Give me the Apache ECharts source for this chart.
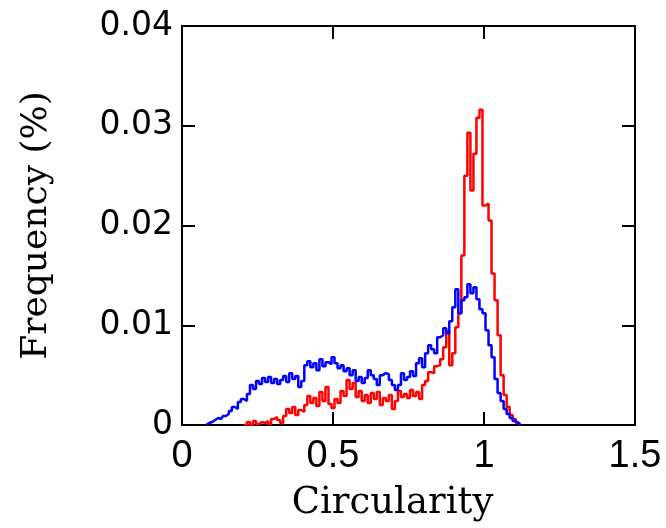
<!DOCTYPE html>
<html>
<head>
<meta charset="utf-8">
<script src="https://cdn.jsdelivr.net/npm/echarts@6/dist/echarts.min.js"></script>
<style>
  html, body { margin: 0; padding: 0; background: #fff; }
  #chart { width: 666px; height: 528px; }
</style>
</head>
<body>
<div id="chart"></div>
<script>
// circularity bins (bin centres)
const bins = [
  0.08, 0.09, 0.10, 0.11, 0.12, 0.13, 0.14, 0.15, 0.16, 0.17,
  0.18, 0.19, 0.20, 0.21, 0.22, 0.23, 0.24, 0.25, 0.26, 0.27,
  0.28, 0.29, 0.30, 0.31, 0.32, 0.33, 0.34, 0.35, 0.36, 0.37,
  0.38, 0.39, 0.40, 0.41, 0.42, 0.43, 0.44, 0.45, 0.46, 0.47,
  0.48, 0.49, 0.50, 0.51, 0.52, 0.53, 0.54, 0.55, 0.56, 0.57,
  0.58, 0.59, 0.60, 0.61, 0.62, 0.63, 0.64, 0.65, 0.66, 0.67,
  0.68, 0.69, 0.70, 0.71, 0.72, 0.73, 0.74, 0.75, 0.76, 0.77,
  0.78, 0.79, 0.80, 0.81, 0.82, 0.83, 0.84, 0.85, 0.86, 0.87,
  0.88, 0.89, 0.90, 0.91, 0.92, 0.93, 0.94, 0.95, 0.96, 0.97,
  0.98, 0.99, 1.00, 1.01, 1.02, 1.03, 1.04, 1.05, 1.06, 1.07,
  1.08, 1.09, 1.10, 1.11, 1.12
];

const blueFreq = [
  0, 0.0002, 0.0003, 0.0005, 0.0007, 0.0006, 0.0009, 0.0011, 0.0014, 0.0018,
  0.0016, 0.0023, 0.0026, 0.0024, 0.0031, 0.0040, 0.0036, 0.0044, 0.0041, 0.0047,
  0.0043, 0.0048, 0.0042, 0.0046, 0.0041, 0.0045, 0.0049, 0.0043, 0.0052, 0.0046,
  0.0049, 0.0038, 0.0044, 0.0060, 0.0064, 0.0058, 0.0062, 0.0055, 0.0066, 0.0059,
  0.0063, 0.0061, 0.0068, 0.0062, 0.0057, 0.0060, 0.0054, 0.0057, 0.0050, 0.0055,
  0.0044, 0.0048, 0.0042, 0.0047, 0.0055, 0.0050, 0.0046, 0.0040, 0.0050, 0.0052,
  0.0051, 0.0045, 0.0040, 0.0035, 0.0040, 0.0052, 0.0045, 0.0048, 0.0054, 0.0049,
  0.0062, 0.0067, 0.0058, 0.0072, 0.0080, 0.0076, 0.0072, 0.0088, 0.0090, 0.0097,
  0.0092, 0.0104, 0.0118, 0.0136, 0.0112, 0.0125, 0.0128, 0.0141, 0.0132, 0.0138,
  0.0126, 0.0116, 0.0112, 0.0095, 0.0080, 0.0068, 0.0046, 0.0032, 0.0024, 0.0016,
  0.0011, 0.0007, 0.0004, 0.0002, 0
];

const redFreq = [
  null, null, null, null, null, null, null, null, null, null,
  null, null, null, 0, 0.0003, 0, 0.0004, 0.0001, 0.0003, 0.0002,
  0.0004, 0.0001, 0.0006, 0.0008, 0.0005, 0.0002, 0.0009, 0.0016, 0.0012, 0.0018,
  0.0010, 0.0015, 0.0013, 0.0020, 0.0029, 0.0022, 0.0027, 0.0019, 0.0033, 0.0024,
  0.0038, 0.0021, 0.0017, 0.0026, 0.0022, 0.0034, 0.0029, 0.0045, 0.0036, 0.0042,
  0.0028, 0.0034, 0.0024, 0.0030, 0.0022, 0.0032, 0.0026, 0.0033, 0.0020, 0.0027,
  0.0024, 0.0030, 0.0016, 0.0024, 0.0034, 0.0028, 0.0031, 0.0027, 0.0035, 0.0029,
  0.0033, 0.0026, 0.0040, 0.0044, 0.0053, 0.0052, 0.0059, 0.0060, 0.0066, 0.0078,
  0.0094, 0.0060, 0.0072, 0.0098, 0.0112, 0.0170, 0.0250, 0.0293, 0.0235, 0.0272,
  0.0308, 0.0316, 0.0220, 0.0222, 0.0205, 0.0152, 0.0125, 0.0090, 0.0050, 0.0030,
  0.0018, 0.0010, 0.0006, 0.0002, 0
];

const xTicks = [0, 0.5, 1, 1.5];
const yTicks = [0, 0.01, 0.02, 0.03, 0.04];

const chart = echarts.init(document.getElementById('chart'));

const frameAxis = {
    axisLine: { show: true, onZero: false, lineStyle: { color: '#000', width: 2 } },
    axisTick: { show: true, inside: true, length: 13, lineStyle: { color: '#000', width: 2 } },
    splitLine: { show: false }
};

const option = {
    backgroundColor: '#fff',
    animation: false,
    grid: { left: 182, right: 31, top: 26, bottom: 103 },
    xAxis: [
        Object.assign({}, frameAxis, {
            type: 'value', position: 'bottom',
            min: xTicks[0], max: xTicks[xTicks.length - 1], interval: 0.5,
            name: 'Circularity', nameLocation: 'middle', nameGap: 60,
            nameTextStyle: { fontFamily: 'DejaVu Serif', fontSize: 37, color: '#000', padding: [0, 32, 0, 0] },
            axisLabel: { fontFamily: 'Liberation Sans', fontSize: 38, color: '#000', margin: 13,
                formatter: v => String(v) }
        }),
        Object.assign({}, frameAxis, {
            type: 'value', position: 'top',
            min: xTicks[0], max: xTicks[xTicks.length - 1], interval: 0.5,
            axisLabel: { show: false }
        })
    ],
    yAxis: [
        Object.assign({}, frameAxis, {
            type: 'value', position: 'left',
            min: yTicks[0], max: yTicks[yTicks.length - 1], interval: 0.01,
            name: 'Frequency (%)', nameLocation: 'middle', nameGap: 127, nameRotate: 90,
            nameTextStyle: { fontFamily: 'DejaVu Serif', fontSize: 36, color: '#000' },
            axisLabel: { fontFamily: 'DejaVu Sans', fontSize: 33, color: '#000', margin: 9,
                formatter: v => String(v) }
        }),
        Object.assign({}, frameAxis, {
            type: 'value', position: 'right',
            min: yTicks[0], max: yTicks[yTicks.length - 1], interval: 0.01,
            axisLabel: { show: false }
        })
    ],
    series: [
        {
            name: 'red', type: 'line', step: 'middle', showSymbol: false,
            data: bins.map((x, i) => [x, redFreq[i]]),
            lineStyle: { color: '#ff0000', width: 2.5 }, itemStyle: { color: '#ff0000' }
        },
        {
            name: 'blue', type: 'line', step: 'middle', showSymbol: false,
            data: bins.map((x, i) => [x, blueFreq[i]]),
            lineStyle: { color: '#0000ff', width: 2.5 }, itemStyle: { color: '#0000ff' }
        }
    ]
};

chart.setOption(option);
</script>
</body>
</html>
